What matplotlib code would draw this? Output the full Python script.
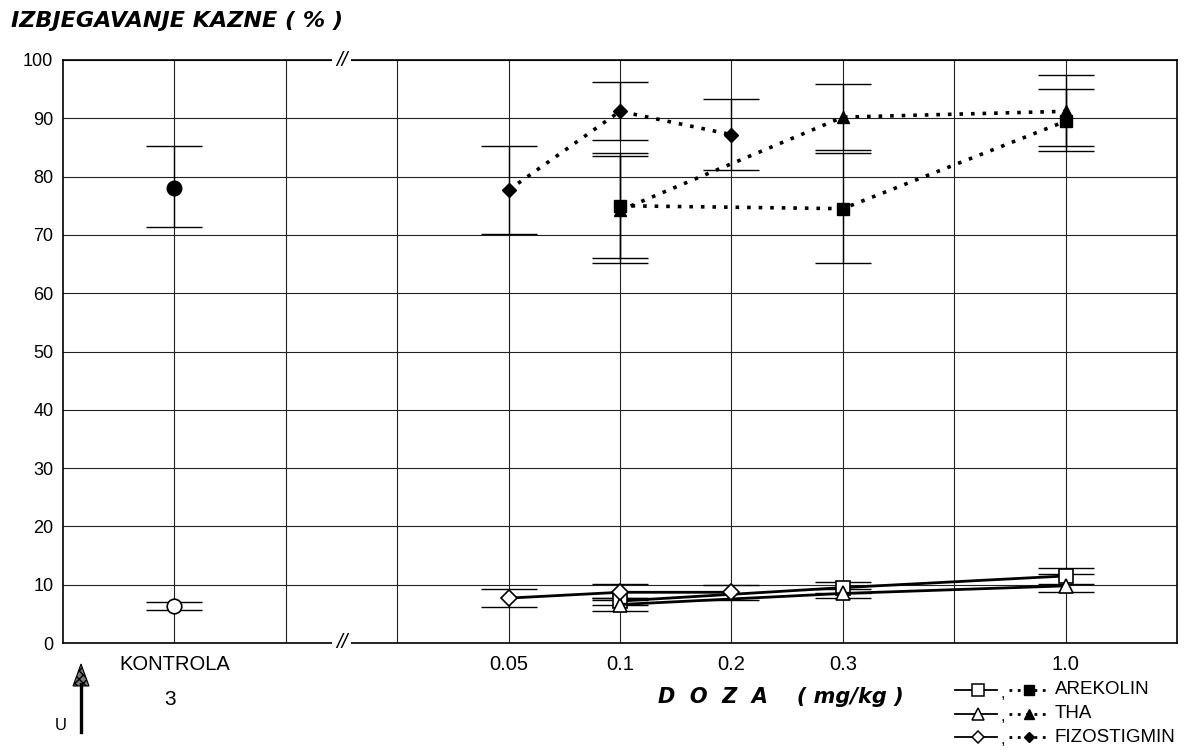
import matplotlib.pyplot as plt
from matplotlib.patches import Polygon
import numpy as np

plt.rcParams['font.family'] = ['Liberation Sans', 'DejaVu Sans']

# dose categories on the x axis (slot index on the axis for each)
dose_labels = ['KONTROLA', '0.05', '0.1', '0.2', '0.3', '1.0']
dose_slots = [1, 4, 5, 6, 7, 9]

# kontrola (control) group
ctrl_filled = [78.0]
ctrl_filled_hi = [85.2]
ctrl_filled_lo = [71.3]
ctrl_open = [6.3]
ctrl_open_hi = [7.0]
ctrl_open_lo = [5.6]

# AREKOLIN
are_doses = ['0.1', '0.3', '1.0']
are_filled = [75.0, 74.5, 89.5]
are_filled_hi = [84.0, 84.0, 95.0]
are_filled_lo = [66.0, 65.2, 84.4]
are_open = [7.2, 9.5, 11.5]
are_open_hi = [7.8, 10.5, 12.8]
are_open_lo = [6.6, 8.5, 10.2]

# THA
tha_doses = ['0.1', '0.3', '1.0']
tha_filled = [74.2, 90.2, 91.2]
tha_filled_hi = [83.6, 95.9, 97.5]
tha_filled_lo = [65.2, 84.6, 85.2]
tha_open = [6.6, 8.5, 9.8]
tha_open_hi = [7.7, 9.3, 11.8]
tha_open_lo = [5.5, 7.7, 8.7]

# FIZOSTIGMIN
fiz_doses = ['0.05', '0.1', '0.2']
fiz_filled = [77.7, 91.2, 87.2]
fiz_filled_hi = [85.3, 96.3, 93.3]
fiz_filled_lo = [70.1, 86.2, 81.1]
fiz_open = [7.7, 8.7, 8.7]
fiz_open_hi = [9.3, 10.1, 10.0]
fiz_open_lo = [6.2, 7.3, 7.4]

slot = dict(zip(dose_labels, dose_slots))


def err(y, hi, lo):
    y = np.array(y)
    return [y - np.array(lo), np.array(hi) - y]


fig = plt.figure(figsize=(11.87, 7.5), dpi=100, facecolor='white')
ax = fig.add_axes([63/1187, 1 - 643/750, (1177-63)/1187, (643-60)/750])

ax.set_xlim(0, 10)
ax.set_ylim(0, 100)
ax.set_xticks(np.arange(1, 10), minor=True)
ax.set_xticks(dose_slots)
ax.set_xticklabels(dose_labels, fontsize=14.5)
ax.set_yticks(np.arange(0, 101, 10))
ax.tick_params(axis='both', which='both', length=0)
ax.tick_params(axis='y', pad=7, labelsize=13)
ax.tick_params(axis='x', pad=9)
ax.grid(True, which='both', color='#222222', lw=0.8)
ax.set_axisbelow(True)
for s in ax.spines.values():
    s.set_linewidth(1.2)

ebkw = dict(fmt='none', ecolor='black', elinewidth=1.0, capsize=20, capthick=1.0, zorder=3)
openkw = dict(mfc='white', mec='black', mew=1.2, ms=10, color='black', zorder=5)
fillkw = dict(mfc='black', mec='black', ms=9, color='black', zorder=5)

# control
cx = [slot['KONTROLA']]
ax.errorbar(cx, ctrl_filled, yerr=err(ctrl_filled, ctrl_filled_hi, ctrl_filled_lo), **ebkw)
ax.errorbar(cx, ctrl_open, yerr=err(ctrl_open, ctrl_open_hi, ctrl_open_lo), **ebkw)
ax.plot(cx, ctrl_filled, marker='o', ls='none', mfc='black', mec='black', ms=10.5, zorder=5)
ax.plot(cx, ctrl_open, marker='o', ls='none', mfc='white', mec='black', mew=1.2, ms=10.5, zorder=5)

series = [
    (are_doses, 's', are_filled, are_filled_hi, are_filled_lo, are_open, are_open_hi, are_open_lo),
    (tha_doses, '^', tha_filled, tha_filled_hi, tha_filled_lo, tha_open, tha_open_hi, tha_open_lo),
    (fiz_doses, 'D', fiz_filled, fiz_filled_hi, fiz_filled_lo, fiz_open, fiz_open_hi, fiz_open_lo),
]

for doses, mk, f, fhi, flo, o, ohi, olo in series:
    xs = [slot[d] for d in doses]
    ms_adj = 7 if mk == 'D' else 9
    ax.errorbar(xs, f, yerr=err(f, fhi, flo), **ebkw)
    ax.errorbar(xs, o, yerr=err(o, ohi, olo), **ebkw)
    ax.plot(xs, f, ls=(0, (1, 2.2)), lw=2.6, marker=mk, dash_capstyle='butt',
            **{**fillkw, 'ms': ms_adj})
    ax.plot(xs, o, ls='-', lw=2.0, marker=mk, **{**openkw, 'ms': ms_adj + 1})

# axis break marks
for yb in (100, 0):
    ax.text(2.5, yb, '//', ha='center', va='center', fontsize=15, style='italic',
            clip_on=False, zorder=10,
            bbox=dict(facecolor='white', edgecolor='none', pad=3))

# "3" under KONTROLA
ax.annotate('3', xy=(slot['KONTROLA'], 0), xycoords=('data', 'axes fraction'),
            xytext=(-3, -41), textcoords='offset points', ha='center', va='center',
            fontsize=15)

# titles
fig.text(11/1187, 1 - 21/750, 'IZBJEGAVANJE KAZNE ( % )', fontsize=16,
         fontweight='bold', style='italic', va='center', ha='left',
         family='DejaVu Sans')
fig.text(781/1187, 1 - 697/750, 'D  O  Z  A    ( mg/kg )', fontsize=15,
         fontweight='bold', style='italic', va='center', ha='center',
         family='DejaVu Sans')

# overlay in pixel coordinates for arrow and legend
ov = fig.add_axes([0, 0, 1, 1])
ov.set_xlim(0, 1187)
ov.set_ylim(750, 0)
ov.axis('off')
ov.patch.set_alpha(0)

ov.plot([81, 81], [732, 684], color='black', lw=2.4)
ov.add_patch(Polygon([[73, 686], [89, 686], [81, 664]], closed=True,
                     facecolor='#777777', edgecolor='black', hatch='xxxx', lw=0.8))
ov.text(61, 725, 'U', fontsize=12, ha='center', va='center')

legend_names = ['AREKOLIN', 'THA', 'FIZOSTIGMIN']
legend_marks = ['s', '^', 'D']
for i, (name, mk) in enumerate(zip(legend_names, legend_marks)):
    yy = 690 + i * 23.5
    ms_adj = 6 if mk == 'D' else 8
    ov.plot([955, 997], [yy, yy], color='black', lw=1.3)
    ov.plot([978], [yy], marker=mk, mfc='white', mec='black', mew=1.1, ms=ms_adj)
    ov.text(1003, yy + 3, ',', fontsize=12, ha='center', va='center')
    ov.plot([1009, 1050], [yy, yy], color='black', lw=2.0, ls=(0, (1, 2)))
    ov.plot([1029], [yy], marker=mk, mfc='black', mec='black', ms=ms_adj - 1)
    ov.text(1055, yy, name, fontsize=13.5, ha='left', va='center')

fig.savefig('out.png', dpi=100)
